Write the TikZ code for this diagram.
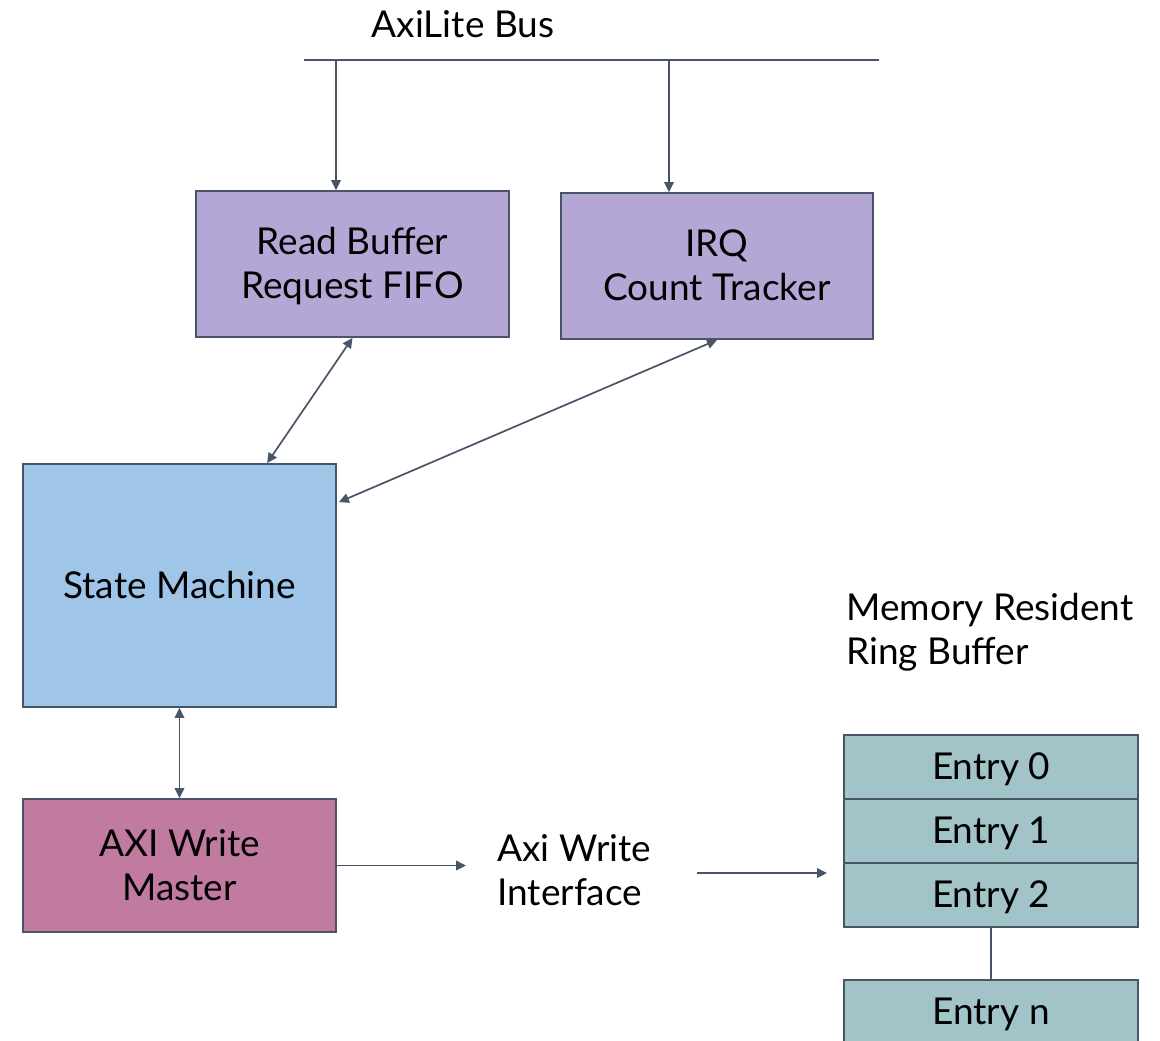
\documentclass[tikz,border=0pt]{standalone}
\usepackage{fontspec}
\setmainfont{Lato}
\usetikzlibrary{arrows.meta}

\definecolor{linegray}{HTML}{485566}
\definecolor{lilac}{HTML}{B4A7D6}
\definecolor{skyblue}{HTML}{9FC5E8}
\definecolor{mauve}{HTML}{C27BA0}
\definecolor{ringteal}{HTML}{A2C4C9}

\begin{document}
\begin{tikzpicture}[x=0.5pt,y=-0.5pt,
  font=\fontsize{18.5}{22}\selectfont,
  block/.style={draw=linegray,line width=0.9pt,align=center,inner sep=0pt,text depth=1pt},
  entrybox/.style={block,fill=ringteal,minimum width=147pt,minimum height=32pt},
  tip/.tip={Triangle[length=5pt,width=4.8pt]},
  link/.style={draw=linegray,line width=0.85pt,-tip},
  twoway/.style={link,tip-tip}]
  \clip (0,0) rectangle (1160,1040);

  % bus
  \coordinate (busL) at (304,60);
  \coordinate (busR) at (879,60);
  \coordinate (tapA) at (336,60);
  \coordinate (tapB) at (669,60);
  \draw[linegray,line width=0.85pt] (busL) -- (busR);
  \node (bus) at (463,24) {AxiLite Bus};

  % blocks
  \node[block,fill=lilac,minimum width=156.5pt,minimum height=73pt] (rbuf) at (352.5,264) {Read Buffer\\Request FIFO};
  \node[block,fill=lilac,minimum width=156pt,minimum height=73pt] (irq) at (717,266) {IRQ\\Count Tracker};
  \node[block,fill=skyblue,minimum width=156.5pt,minimum height=121.5pt] (fsm) at (179.5,585.5) {State Machine};
  \node[block,fill=mauve,minimum width=156.5pt,minimum height=66.5pt] (axiw) at (179.5,865.5) {AXI Write\\Master};
  \node[align=left,anchor=west,inner sep=0pt] (iface) at (497,870) {Axi Write\\Interface};

  % ring buffer
  \node[align=left,anchor=west,inner sep=0pt] (ringlbl) at (846,632) {Memory Resident\\Ring Buffer};
  \node[entrybox] (entry0) at (991,767) {Entry 0};
  \node[entrybox] (entry1) at (991,831) {Entry 1};
  \node[entrybox] (entry2) at (991,895) {Entry 2};
  \node[entrybox] (entryn) at (991,1012) {Entry n};
  \draw[linegray,line width=0.85pt] (entry2.south) -- (entryn.north);

  % connections
  \draw[link] (tapA) -- (tapA |- rbuf.north);
  \draw[link] (tapB) -- (tapB |- irq.north);
  \draw[twoway] (rbuf.south) -- ([shift={(245,0)}]fsm.north west);
  \draw[twoway] (irq.south) -- ([shift={(2,39)}]fsm.north east);
  \draw[twoway] (fsm.south) -- (axiw.north);
  \draw[link] (axiw.east) -- ([xshift=-15.5pt]iface.west |- axiw.east);
  \coordinate (ifaceout) at (697,873);
  \coordinate (ringin) at (827,873);
  \draw[link] (ifaceout) -- (ringin);
\end{tikzpicture}
\end{document}
